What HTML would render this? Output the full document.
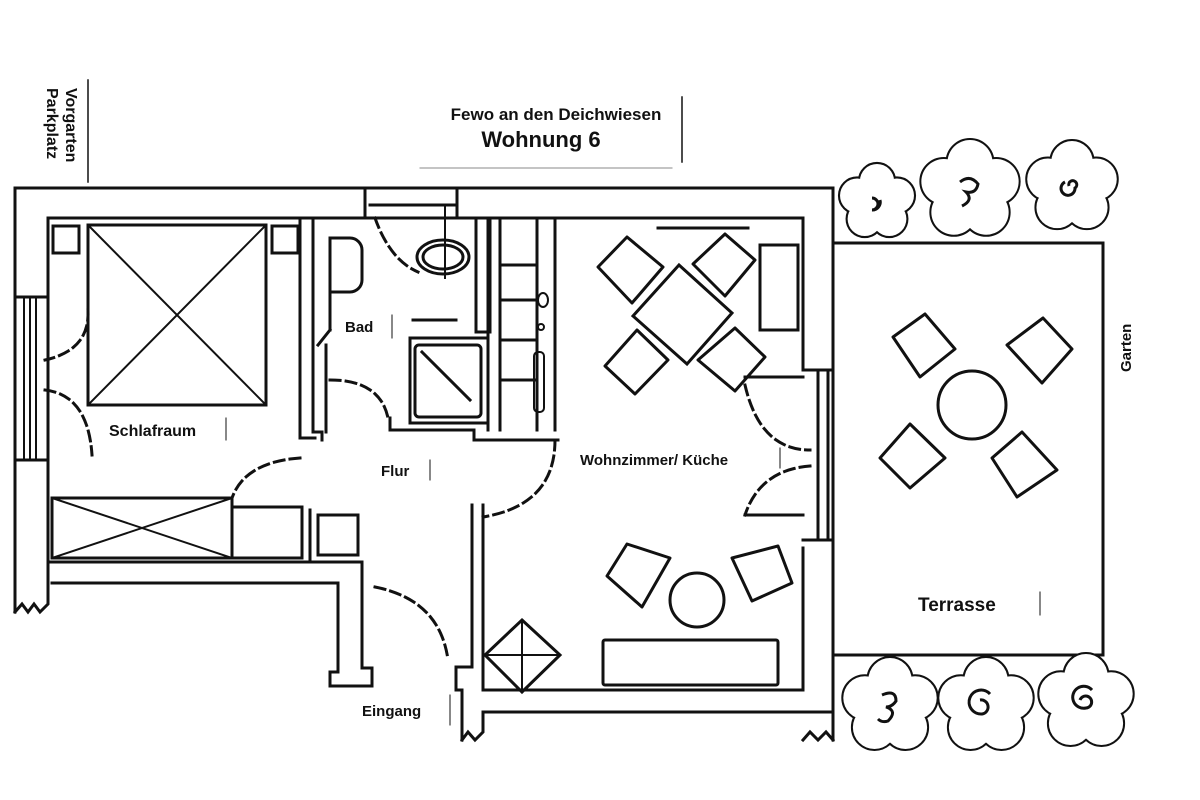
<!DOCTYPE html>
<html><head><meta charset="utf-8"><style>
html,body{margin:0;padding:0;background:#fff;}
svg{display:block}
text{font-family:"Liberation Sans",Arial,sans-serif;font-weight:bold;fill:#111}
</style></head><body>
<svg width="1200" height="800" viewBox="0 0 1200 800" xmlns="http://www.w3.org/2000/svg">
<defs>
<g id="fs">
<circle cx="0" cy="-0.55" r="0.45"/><circle cx="0.523" cy="-0.17" r="0.45"/><circle cx="0.323" cy="0.445" r="0.45"/><circle cx="-0.323" cy="0.445" r="0.45"/><circle cx="-0.523" cy="-0.17" r="0.45"/>
</g>
<g id="ff">
<circle cx="0" cy="-0.55" r="0.45"/><circle cx="0.523" cy="-0.17" r="0.45"/><circle cx="0.323" cy="0.445" r="0.45"/><circle cx="-0.323" cy="0.445" r="0.45"/><circle cx="-0.523" cy="-0.17" r="0.45"/><circle cx="0" cy="0" r="0.6"/>
</g>
</defs>
<rect width="1200" height="800" fill="#fff"/>
<g stroke="#111" stroke-width="3" fill="none" stroke-linecap="square">
<!-- header -->
<line x1="88" y1="80" x2="88" y2="182" stroke-width="1.5"/>
<line x1="682" y1="97" x2="682" y2="162" stroke-width="1.5"/>
<line x1="420" y1="168" x2="672" y2="168" stroke-width="1" stroke="#888"/>
<!-- outer walls -->
<polyline points="15,612 15,188 833,188 833,243"/>
<line x1="833" y1="243" x2="833" y2="740"/>
<polyline points="48,580 48,218 803,218 803,370"/>
<line x1="365" y1="188" x2="365" y2="218"/><line x1="457" y1="188" x2="457" y2="218"/>
<line x1="370" y1="205" x2="455" y2="205"/>
<!-- left window -->
<rect x="24" y="297" width="12" height="163" stroke-width="2"/>
<line x1="30" y1="297" x2="30" y2="460" stroke-width="2"/>
<line x1="15" y1="297" x2="48" y2="297"/><line x1="15" y1="460" x2="48" y2="460"/>
<polyline points="15,612 22,604 28,612 34,604 40,612 48,604 48,580"/>
<!-- bedroom bottom walls -->
<line x1="48" y1="562" x2="340" y2="562"/>
<line x1="52" y1="583" x2="338" y2="583"/>
<polyline points="338,583 338,672 330,672 330,686 372,686 372,668 362,668 362,562 310,562 310,510"/>
<!-- bedroom/bath wall -->
<polyline points="300,218 300,438 315,438"/>
<polyline points="313,218 313,432 322,432 322,440"/>
<!-- bed -->
<rect x="88" y="225" width="178" height="180"/>
<line x1="88" y1="225" x2="266" y2="405" stroke-width="2"/><line x1="266" y1="225" x2="88" y2="405" stroke-width="2"/>
<rect x="53" y="226" width="26" height="27"/><rect x="272" y="226" width="26" height="27"/>
<!-- wardrobe -->
<rect x="52" y="498" width="180" height="60"/>
<line x1="52" y1="498" x2="232" y2="558" stroke-width="2"/><line x1="232" y1="498" x2="52" y2="558" stroke-width="2"/>
<rect x="232" y="507" width="70" height="51"/>
<rect x="318" y="515" width="40" height="40"/>
<!-- bath -->
<path d="M330,238 h20 a12,12 0 0 1 12,12 v30 a12,12 0 0 1 -12,12 h-20 z"/>
<line x1="330" y1="292" x2="330" y2="330"/><line x1="330" y1="330" x2="318" y2="345"/>
<line x1="326" y1="345" x2="326" y2="432"/>
<ellipse cx="443" cy="257" rx="26" ry="17"/><ellipse cx="443" cy="257" rx="20" ry="12"/>
<line x1="445" y1="205" x2="445" y2="278" stroke-width="2"/>
<polyline points="476,218 476,332 490,332 490,218"/>
<line x1="413" y1="320" x2="456" y2="320"/>
<rect x="410" y="338" width="78" height="85"/>
<rect x="415" y="345" width="66" height="72" rx="4"/>
<line x1="422" y1="352" x2="470" y2="400"/>
<polyline points="390,418 390,430 474,430 474,440 558,440"/>
<polyline points="488,218 488,430"/>
<!-- kitchen -->
<line x1="500" y1="218" x2="500" y2="430"/><line x1="537" y1="218" x2="537" y2="430"/><line x1="555" y1="218" x2="555" y2="430"/>
<line x1="500" y1="265" x2="537" y2="265"/><line x1="500" y1="300" x2="537" y2="300"/><line x1="500" y1="340" x2="537" y2="340"/><line x1="500" y1="380" x2="537" y2="380"/>
<ellipse cx="543" cy="300" rx="5" ry="7" stroke-width="2"/><circle cx="541" cy="327" r="3" stroke-width="2"/>
<rect x="534" y="352" width="10" height="60" rx="4" stroke-width="2"/>
<!-- flur/wohn lower wall -->
<polyline points="472,505 472,667 456,667 456,690 462,690 462,740"/>
<polyline points="483,505 483,690 803,690 803,548"/>
<line x1="483" y1="712" x2="833" y2="712"/>
<polyline points="462,740 468,732 475,740 483,732 483,712"/>
<polyline points="803,740 810,732 818,740 826,732 833,740"/>
<!-- right glass door -->
<line x1="745" y1="377" x2="803" y2="377"/><line x1="803" y1="370" x2="833" y2="370"/>
<line x1="818" y1="370" x2="818" y2="540"/><line x1="828" y1="370" x2="828" y2="540"/>
<line x1="745" y1="515" x2="803" y2="515"/><line x1="803" y1="540" x2="833" y2="540"/>
<!-- dining -->
<line x1="658" y1="228" x2="748" y2="228"/>
<polygon points="679,265 732,313 687,364 633,316"/>
<polygon points="598,267 627,237 663,267 632,303" stroke-linejoin="round"/>
<polygon points="693,264 725,234 755,260 725,296" stroke-linejoin="round"/>
<polygon points="605,366 637,330 668,360 635,394" stroke-linejoin="round"/>
<polygon points="698,360 735,328 765,357 735,391" stroke-linejoin="round"/>
<rect x="760" y="245" width="38" height="85"/>
<!-- living -->
<polygon points="607,576 627,544 670,558 642,607" stroke-linejoin="round"/>
<circle cx="697" cy="600" r="27"/>
<polygon points="732,558 778,546 792,583 752,601" stroke-linejoin="round"/>
<rect x="603" y="640" width="175" height="45" rx="2"/>
<polygon points="522,620 560,655 522,692 485,655"/>
<line x1="522" y1="620" x2="522" y2="692" stroke-width="2"/><line x1="485" y1="655" x2="560" y2="655" stroke-width="2"/>
<!-- doors dashed -->
<g stroke-dasharray="10,6">
<path d="M375,218 Q390,260 418,272"/>
<path d="M330,380 Q380,380 388,418"/>
<path d="M300,458 Q245,462 232,498"/>
<path d="M375,587 Q440,600 448,660"/>
<path d="M555,440 Q555,505 483,517"/>
<path d="M745,385 Q760,450 810,450"/>
<path d="M810,466 Q760,470 745,515"/>
<path d="M88,310 Q90,350 45,360"/>
<path d="M45,390 Q88,395 92,455"/>
</g>
<!-- terrace -->
<rect x="833" y="243" width="270" height="412"/>
<circle cx="972" cy="405" r="34"/>
<polygon points="893,337 925,314 955,349 920,377" stroke-linejoin="round"/>
<polygon points="1007,345 1043,318 1072,349 1042,383" stroke-linejoin="round"/>
<polygon points="880,458 910,424 945,458 910,488" stroke-linejoin="round"/>
<polygon points="992,458 1022,432 1057,470 1017,497" stroke-linejoin="round"/>
<!-- label ticks -->
<line x1="226" y1="418" x2="226" y2="440" stroke-width="1"/>
<line x1="392" y1="315" x2="392" y2="338" stroke-width="1"/>
<line x1="430" y1="460" x2="430" y2="480" stroke-width="1"/>
<line x1="780" y1="448" x2="780" y2="468" stroke-width="1"/>
<line x1="1040" y1="592" x2="1040" y2="615" stroke-width="1"/>
<line x1="450" y1="695" x2="450" y2="725" stroke-width="1"/>
</g>
<!-- flowers -->
<g stroke="#111" fill="#fff">
<use href="#fs" transform="translate(877,202) scale(38)" stroke-width="0.11"/>
<use href="#fs" transform="translate(970,190) scale(50)" stroke-width="0.08"/>
<use href="#fs" transform="translate(1072,187) scale(46)" stroke-width="0.087"/>
<use href="#fs" transform="translate(890,706) scale(48)" stroke-width="0.083"/>
<use href="#fs" transform="translate(986,706) scale(48)" stroke-width="0.083"/>
<use href="#fs" transform="translate(1086,702) scale(48)" stroke-width="0.083"/>
</g>
<g fill="#fff" stroke="none">
<use href="#ff" transform="translate(877,202) scale(38)"/>
<use href="#ff" transform="translate(970,190) scale(50)"/>
<use href="#ff" transform="translate(1072,187) scale(46)"/>
<use href="#ff" transform="translate(890,706) scale(48)"/>
<use href="#ff" transform="translate(986,706) scale(48)"/>
<use href="#ff" transform="translate(1086,702) scale(48)"/>
</g>
<g stroke="#111" stroke-width="3" fill="none">
<path d="M872,198 a6,6 0 1 1 0,12 a8,8 0 0 0 8,-10"/>
<path d="M960,182 q10,-8 18,2 q-2,10 -12,8 q8,8 -4,14"/>
<path d="M1065,182 a7,7 0 1 0 10,6 a4,4 0 1 0 -6,-2"/>
<path d="M882,695 q14,-6 14,6 q-4,6 -10,6 q12,4 2,14 q-6,2 -10,-2"/>
<path d="M980,700 a7,7 0 1 1 2,14 a12,12 0 1 1 8,-20"/>
<path d="M1080,700 a6,6 0 1 1 6,8 a11,11 0 1 1 6,-18"/>
</g>
<!-- text -->
<text x="556" y="120" font-size="17" text-anchor="middle" style="font-weight:600">Fewo an den Deichwiesen</text>
<text x="541" y="147" font-size="22" text-anchor="middle">Wohnung 6</text>
<text transform="translate(66,88) rotate(90)" font-size="16" style="font-weight:600">Vorgarten</text>
<text transform="translate(47,88) rotate(90)" font-size="16" style="font-weight:600">Parkplatz</text>
<text x="109" y="436" font-size="16" style="font-weight:600">Schlafraum</text>
<text x="345" y="332" font-size="15" style="font-weight:600">Bad</text>
<text x="381" y="476" font-size="15" style="font-weight:600">Flur</text>
<text x="580" y="465" font-size="15" style="font-weight:600">Wohnzimmer/ Küche</text>
<text x="362" y="716" font-size="15" style="font-weight:600">Eingang</text>
<text x="918" y="611" font-size="19">Terrasse</text>
<text transform="translate(1131,372) rotate(-90)" font-size="15" style="font-weight:600">Garten</text>
</svg>
</body></html>
